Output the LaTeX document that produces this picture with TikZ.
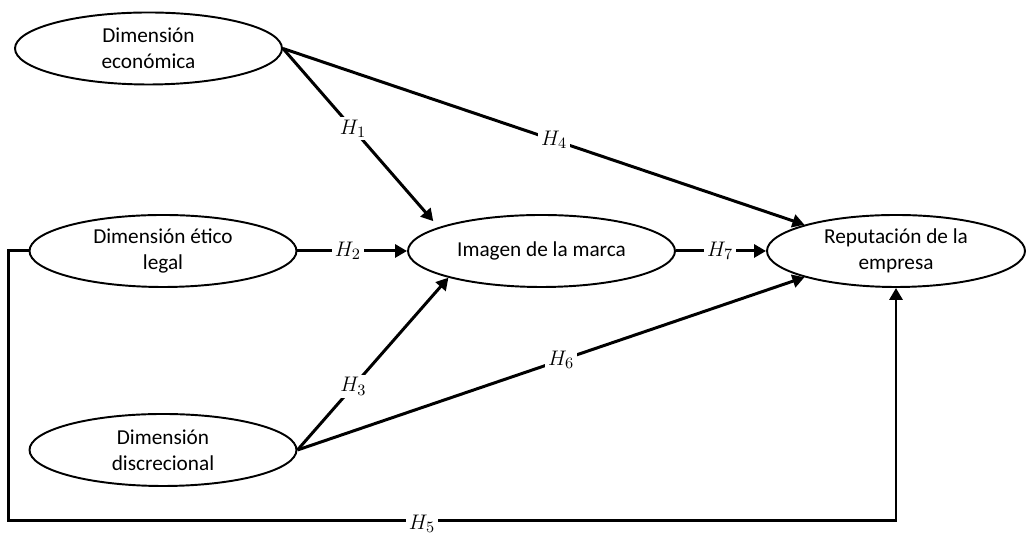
\documentclass[tikz,border=0pt]{standalone}
\usepackage{fontspec}
\setmainfont{Carlito}
\usetikzlibrary{shapes.geometric,arrows.meta}

\begin{document}
\begin{tikzpicture}[x=1cm,y=1cm,
  construct/.style={ellipse,draw,line width=1.1pt,minimum width=5.34cm,
    minimum height=1.44cm,inner sep=0pt,align=center,
    font=\fontsize{12.1}{14.8}\selectfont},
  hyp/.style={line width=1.7pt,-{Triangle[length=0.24cm,width=0.26cm]}},
  hlabel/.style={fill=white,inner sep=1.5pt,font=\fontsize{13}{15}\selectfont}]
\useasboundingbox (0,0) rectangle (20.54,10.66);

\node[construct] (econ) at (2.97,9.69) {Dimensión\\económica};
\node[construct] (etico) at (3.26,5.64) {Dimensión ético\\legal};
\node[construct] (discr) at (3.26,1.66) {Dimensión\\discrecional};
\node[construct] (imagen) at (10.83,5.64) {Imagen de la marca};
\node[construct,minimum width=5.16cm] (reput) at (17.92,5.64) {Reputación de la\\empresa};

\draw[hyp,shorten >=0.16cm] (econ.east) -- node[hlabel,pos=0.45] {$H_1$} (imagen.167);
\draw[hyp] (etico.east) -- node[hlabel,pos=0.46] {$H_2$} (imagen.west);
\draw[hyp] (discr.east) -- node[hlabel,pos=0.37] {$H_3$} (imagen.196);
\draw[hyp] (econ.east) -- node[hlabel,pos=0.52] {$H_4$} (reput.164);
\draw[hyp] (discr.east) -- node[hlabel,pos=0.52] {$H_6$} (reput.196);
\draw[hyp] (imagen.east) -- node[hlabel,pos=0.49] {$H_7$} (reput.west);

\coordinate (h5) at (8.44,0.24);
\draw[hyp] (etico.west) -- ++(-0.4,0) |- (h5) node[hlabel,yshift=-1.5pt] {$H_5$} -| (reput.south);
\end{tikzpicture}
\end{document}
